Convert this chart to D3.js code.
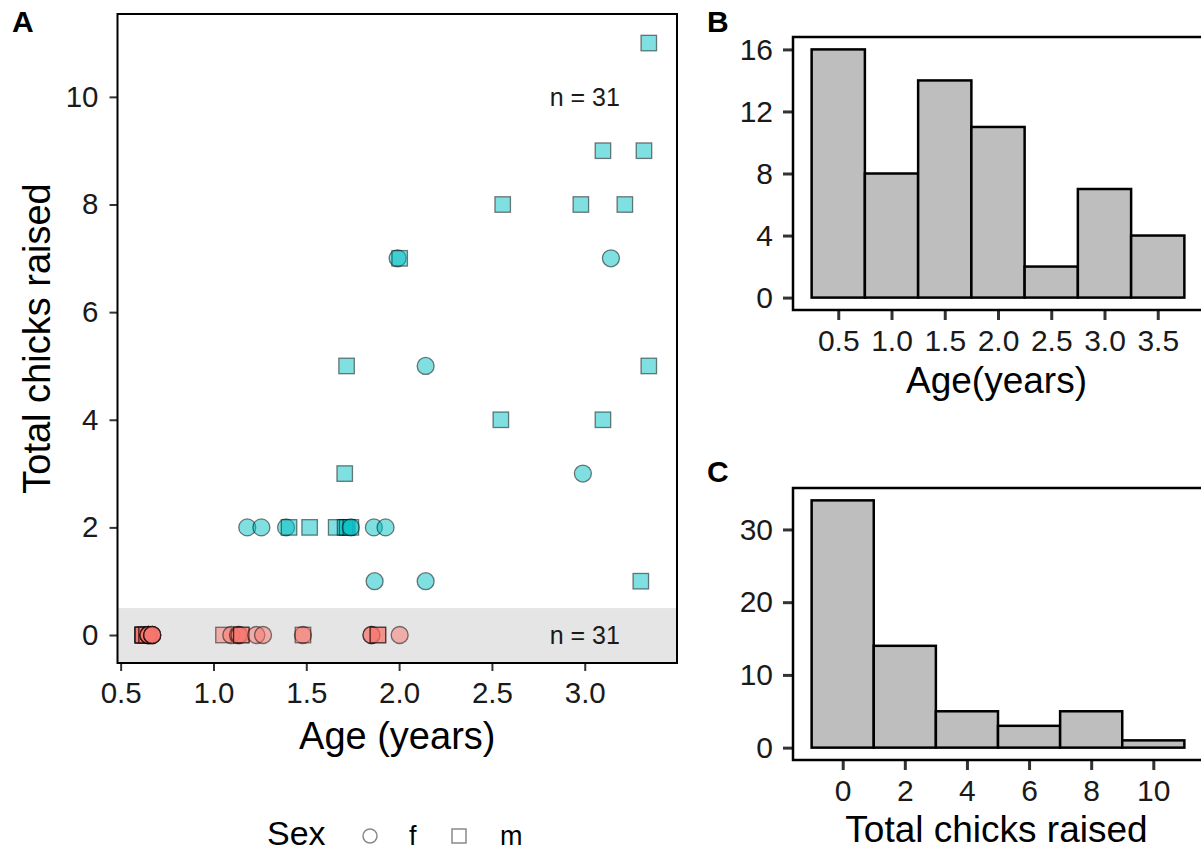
<!DOCTYPE html>
<html>
<head>
<meta charset="utf-8">
<script src="https://cdn.jsdelivr.net/npm/d3@7"></script>
<style>
  body { margin: 0; background: #fff; }
  svg { display: block; font-family: "Liberation Sans", Arial, Helvetica, sans-serif; }
</style>
</head>
<body>
<div id="chart"></div>
<script>
// Panel A: birds that raised chicks (cyan)
const raisedAge = [
  3.345, 3.098, 3.319, 2.558, 2.979, 3.216, 1.992, 2.003, 3.141,
  1.717, 2.143, 3.345, 2.548, 3.098, 1.707, 2.990,
  1.182, 1.258, 1.391, 1.407, 1.518, 1.661, 1.709, 1.720, 1.740, 1.740, 1.864, 1.927,
  1.868, 2.143, 3.302
];
const raisedChicks = [
  11, 9, 9, 8, 8, 8, 7, 7, 7,
  5, 5, 5, 4, 4, 3, 3,
  2, 2, 2, 2, 2, 2, 2, 2, 2, 2, 2, 2,
  1, 1, 1
];
const raisedSex = [
  "m", "m", "m", "m", "m", "m", "f", "m", "f",
  "m", "f", "m", "m", "m", "m", "f",
  "f", "f", "f", "m", "m", "m", "m", "m", "m", "f", "f", "f",
  "f", "f", "m"
];
// Panel A: birds that raised no chicks (red), all at 0
const zeroAge = [
  0.62, 0.62, 0.62, 0.62, 0.62, 0.62, 0.64, 0.64, 0.65, 0.65, 0.65, 0.65, 0.67, 0.67, 0.67, 0.67,
  1.054, 1.096, 1.132, 1.140, 1.150, 1.150, 1.231,
  1.267, 1.482, 1.482,
  1.851, 1.851, 1.886, 1.886, 2.003
];
const zeroSex = [
  "m", "m", "m", "m", "m", "m", "m", "m", "f", "f", "f", "f", "f", "f", "f", "f",
  "m", "f", "f", "f", "m", "m", "f",
  "f", "f", "m",
  "f", "f", "m", "m", "f"
];

// Panel B: age histogram
const ageBinMid = [0.5, 1.0, 1.5, 2.0, 2.5, 3.0, 3.5];
const ageBinCount = [16, 8, 14, 11, 2, 7, 4];
// Panel C: chicks histogram
const chickBinMid = [0, 2, 4, 6, 8, 10];
const chickBinCount = [34, 14, 5, 3, 5, 1];

const ticksAx = [0.5, 1.0, 1.5, 2.0, 2.5, 3.0];
const ticksAy = [0, 2, 4, 6, 8, 10];
const ticksBx = [0.5, 1.0, 1.5, 2.0, 2.5, 3.0, 3.5];
const ticksBy = [0, 4, 8, 12, 16];
const ticksCx = [0, 2, 4, 6, 8, 10];
const ticksCy = [0, 10, 20, 30];

const W = 1201, H = 853;
const CYAN = "#00BFC4", RED = "#F8766D";

const svg = d3.select("#chart").append("svg")
  .attr("width", W)
  .attr("height", H)
  .attr("viewBox", `0 0 ${W} ${H}`);

function styleAxis(g, size, tickW) {
  g.select(".domain").remove();
  g.selectAll(".tick line").attr("stroke", "#333").attr("stroke-width", tickW);
  g.selectAll(".tick text")
    .attr("fill", "#1a1a1a")
    .style("font-size", `${size}px`)
    .style("font-family", "Liberation Sans, Arial, sans-serif");
}

// ---------- Panel A ----------
const A = { left: 117.5, right: 677, top: 14, bottom: 663 };
const xA = d3.scaleLinear().domain([0.483, 3.497]).range([A.left, A.right]);
const yA = d3.scaleLinear().domain([-0.52, 11.54]).range([A.bottom, A.top]);

// grey band for zero chicks
svg.append("rect")
  .attr("x", A.left)
  .attr("y", yA(0.5))
  .attr("width", A.right - A.left)
  .attr("height", A.bottom - yA(0.5))
  .attr("fill", "#E5E5E5");

svg.append("g")
  .attr("transform", `translate(0,${A.bottom})`)
  .call(d3.axisBottom(xA).tickValues(ticksAx).tickFormat(d3.format(".1f")).tickSize(8).tickPadding(11))
  .call(g => styleAxis(g, 29.5, 2));

svg.append("g")
  .attr("transform", `translate(${A.left},0)`)
  .call(d3.axisLeft(yA).tickValues(ticksAy).tickSize(8).tickPadding(11))
  .call(g => styleAxis(g, 29.5, 2));

const zeroPts = zeroAge.map((a, i) => ({ age: a, chicks: 0, sex: zeroSex[i], col: RED }));
const raisedPts = raisedAge.map((a, i) => ({ age: a, chicks: raisedChicks[i], sex: raisedSex[i], col: CYAN }));
const pts = zeroPts.concat(raisedPts);

const ptLayer = svg.append("g");
const sq = 15.5, rad = 8.5;
pts.forEach(d => {
  const cx = xA(d.age), cy = yA(d.chicks);
  const el = d.sex === "f"
    ? ptLayer.append("circle").attr("cx", cx).attr("cy", cy).attr("r", rad)
    : ptLayer.append("rect").attr("x", cx - sq / 2).attr("y", cy - sq / 2).attr("width", sq).attr("height", sq);
  el.attr("fill", d.col)
    .attr("fill-opacity", 0.5)
    .attr("stroke", "#000")
    .attr("stroke-opacity", 0.5)
    .attr("stroke-width", 1.3);
});

// n labels
[10, 0].forEach(v => {
  svg.append("text")
    .attr("x", xA(3.0))
    .attr("y", yA(v))
    .attr("dy", "0.35em")
    .attr("text-anchor", "middle")
    .style("font-size", "25px")
    .style("fill", "#1a1a1a")
    .text("n = 31");
});

svg.append("rect")
  .attr("x", A.left).attr("y", A.top)
  .attr("width", A.right - A.left).attr("height", A.bottom - A.top)
  .attr("fill", "none").attr("stroke", "#000").attr("stroke-width", 2);

svg.append("text")
  .attr("x", (A.left + A.right) / 2)
  .attr("y", 749)
  .attr("text-anchor", "middle")
  .style("font-size", "38px")
  .style("fill", "#000")
  .text("Age (years)");

svg.append("text")
  .attr("transform", `translate(50,${(A.top + A.bottom) / 2}) rotate(-90)`)
  .attr("text-anchor", "middle")
  .style("font-size", "38px")
  .style("fill", "#000")
  .text("Total chicks raised");

// legend
const leg = svg.append("g");
leg.append("text").attr("x", 267).attr("y", 845).style("font-size", "34px").text("Sex");
leg.append("circle").attr("cx", 370).attr("cy", 836).attr("r", 7)
  .attr("fill", "none").attr("stroke", "#8a8a8a").attr("stroke-width", 1.5);
leg.append("text").attr("x", 409).attr("y", 845).style("font-size", "27px").text("f");
leg.append("rect").attr("x", 452).attr("y", 829).attr("width", 14).attr("height", 14)
  .attr("fill", "none").attr("stroke", "#8a8a8a").attr("stroke-width", 1.5);
leg.append("text").attr("x", 500).attr("y", 845).style("font-size", "27px").text("m");

// ---------- histogram helper ----------
function histPanel(box, xDom, yDom, mids, counts, width, xt, yt, xFmt, title, titleY) {
  const x = d3.scaleLinear().domain(xDom).range([box.left, box.right]);
  const y = d3.scaleLinear().domain(yDom).range([box.bottom, box.top]);

  svg.append("g")
    .attr("transform", `translate(0,${box.bottom})`)
    .call(d3.axisBottom(x).tickValues(xt).tickFormat(xFmt).tickSize(10).tickPadding(10))
    .call(g => styleAxis(g, 30, 3));

  svg.append("g")
    .attr("transform", `translate(${box.left},0)`)
    .call(d3.axisLeft(y).tickValues(yt).tickSize(10).tickPadding(10))
    .call(g => styleAxis(g, 30, 3));

  svg.append("g").selectAll("rect")
    .data(mids.map((m, i) => ({ m, c: counts[i] })))
    .join("rect")
    .attr("x", d => x(d.m - width / 2))
    .attr("width", d => x(d.m + width / 2) - x(d.m - width / 2))
    .attr("y", d => y(d.c))
    .attr("height", d => y(0) - y(d.c))
    .attr("fill", "#BEBEBE")
    .attr("stroke", "#000")
    .attr("stroke-width", 2.5);

  svg.append("rect")
    .attr("x", box.left).attr("y", box.top)
    .attr("width", box.right - box.left).attr("height", box.bottom - box.top)
    .attr("fill", "none").attr("stroke", "#000").attr("stroke-width", 2.5);

  svg.append("text")
    .attr("x", (box.left + 1200) / 2)
    .attr("y", titleY)
    .attr("text-anchor", "middle")
    .style("font-size", "37px")
    .style("fill", "#000")
    .text(title);
}

histPanel({ left: 793, right: 1203, top: 37, bottom: 310 },
  [0.075, 3.925], [-0.8, 16.8], ageBinMid, ageBinCount, 0.5,
  ticksBx, ticksBy, d3.format(".1f"), "Age(years)", 393);

histPanel({ left: 793, right: 1203, top: 488, bottom: 760 },
  [-1.6, 11.6], [-1.7, 35.7], chickBinMid, chickBinCount, 2,
  ticksCx, ticksCy, d3.format("d"), "Total chicks raised", 842);

// panel letters
[["A", 12, 32], ["B", 707, 32], ["C", 707, 482]].forEach(([t, x, y]) => {
  svg.append("text")
    .attr("x", x).attr("y", y)
    .style("font-size", "30px")
    .style("font-weight", "bold")
    .style("fill", "#000")
    .text(t);
});
</script>
</body>
</html>
